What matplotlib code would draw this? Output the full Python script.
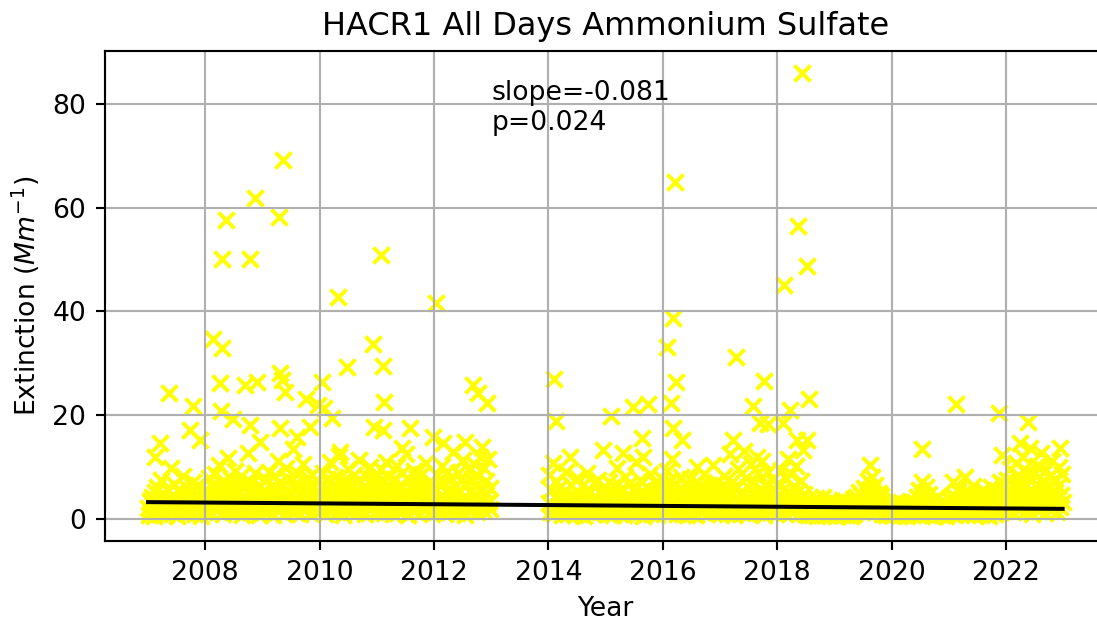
import numpy as np
import pandas as pd
import matplotlib
matplotlib.use("Agg")
import matplotlib.pyplot as plt

# routine samples (every 6 days from Jan 2), extinction in Mm^-1
band_2007 = [2.1, 0.8, 3.4, 1.5, 4.2, 2.7, 0.6, 5.1, 3.3, 1.9, 6.2, 2.4, 0.9, 3.8, 7.4, 2.2, 1.3, 4.6, 3.1, 0.7,
             5.8, 2.9, 1.6, 3.7, 9.8, 2.5, 1.1, 4.4, 6.7, 1.8, 3.2, 0.5, 5.5, 2.6, 1.4, 4.9, 3.6, 8.3, 2.0, 1.2,
             4.1, 6.0, 2.8, 0.9, 3.5, 5.3, 1.7, 2.3, 7.1, 3.9, 1.0, 4.7, 2.4, 6.5, 1.5, 3.0, 0.6, 5.0, 2.2, 3.4, 1.3]
band_2008 = [3.2, 1.4, 5.6, 2.8, 7.9, 4.1, 1.1, 6.3, 3.7, 2.0, 8.6, 4.8, 1.6, 5.2, 3.0, 10.4, 2.3, 6.8, 4.5, 0.9,
             7.2, 3.4, 1.8, 5.9, 11.8, 2.6, 4.0, 7.6, 1.3, 3.9, 6.1, 2.2, 9.3, 4.6, 1.5, 5.4, 3.1, 8.1, 2.7, 0.8,
             6.6, 4.3, 1.9, 7.0, 3.6, 12.6, 2.4, 5.0, 1.2, 6.9, 3.3, 4.9, 2.1, 8.8, 1.7, 5.7, 3.8, 0.7, 6.4, 2.9, 4.4]
band_2009 = [2.9, 5.3, 1.2, 7.7, 3.5, 4.8, 1.9, 9.1, 2.5, 6.2, 3.9, 0.8, 8.2, 4.6, 2.1, 5.8, 11.2, 3.2, 1.5, 7.1,
             4.3, 2.6, 6.6, 1.0, 3.8, 9.7, 5.1, 2.3, 7.4, 1.6, 4.9, 3.0, 13.4, 2.0, 5.6, 1.3, 6.8, 3.4, 8.7, 2.7,
             0.9, 5.0, 4.1, 10.6, 1.8, 6.0, 3.6, 2.2, 7.9, 4.4, 1.1, 5.5, 3.1, 8.4, 2.4, 6.3, 1.4, 4.7, 3.3, 7.3, 2.0]
band_2010 = [4.0, 1.7, 6.4, 2.9, 8.9, 3.5, 1.0, 5.7, 7.6, 2.3, 4.2, 10.9, 1.4, 6.1, 3.7, 2.0, 8.0, 4.8, 1.2, 5.3,
             3.1, 12.1, 2.6, 6.9, 4.4, 0.8, 7.3, 3.3, 1.9, 5.9, 9.5, 2.4, 4.6, 1.5, 6.7, 3.0, 8.5, 2.1, 5.2, 1.1,
             7.0, 3.8, 11.4, 2.7, 4.9, 1.6, 6.2, 3.4, 0.9, 8.3, 4.1, 2.2, 5.6, 3.6, 9.9, 1.8, 6.5, 2.8, 4.5, 1.3, 7.8]
band_2011 = [3.6, 6.9, 1.5, 4.7, 9.6, 2.4, 7.5, 3.1, 1.1, 5.8, 11.0, 2.8, 4.3, 8.1, 1.7, 6.2, 3.5, 0.9, 7.7, 4.9,
             2.2, 10.2, 5.4, 1.3, 3.9, 6.6, 2.5, 8.8, 4.1, 1.8, 5.1, 12.4, 3.2, 0.7, 7.2, 4.6, 2.0, 6.0, 3.4, 9.2,
             1.4, 5.7, 2.9, 7.9, 4.0, 1.0, 6.4, 3.7, 8.6, 2.3, 5.0, 1.6, 10.7, 3.0, 6.8, 2.6, 4.4, 1.2, 7.1, 3.8, 5.5]
band_2012 = [2.7, 5.9, 1.3, 8.4, 3.6, 1.9, 6.5, 4.2, 10.1, 2.2, 7.0, 3.3, 0.9, 5.4, 9.0, 2.6, 4.7, 1.5, 7.8, 3.9,
             12.8, 2.1, 6.1, 4.5, 1.1, 8.9, 3.2, 5.6, 1.7, 7.4, 2.8, 11.3, 4.0, 0.8, 6.7, 3.5, 2.4, 9.4, 5.2, 1.4,
             7.6, 3.0, 10.5, 2.0, 6.3, 4.8, 1.2, 8.2, 3.7, 12.0, 2.5, 5.8, 1.6, 9.7, 4.3, 7.2, 2.9, 11.6, 3.4, 6.0, 1.8]
band_2014 = [3.1, 8.4, 1.2, 5.6, 2.4, 10.8, 0.9, 4.3, 7.2, 2.0, 3.7, 1.5, 6.1, 2.8, 0.7, 4.9, 3.3, 1.8, 5.4, 9.1,
             2.2, 1.0, 4.1, 3.0, 6.6, 1.4, 2.6, 4.6, 0.8, 3.5, 7.8, 1.9, 5.0, 2.3, 1.1, 3.9, 6.3, 2.7, 0.6, 4.4,
             1.6, 8.9, 3.2, 2.1, 5.2, 1.3, 3.6, 0.9, 6.8, 2.5, 4.0, 1.7, 3.4, 7.5, 2.0, 1.2, 4.7, 2.9, 5.8, 1.5, 3.8]
band_2015 = [2.6, 5.1, 1.0, 3.9, 7.0, 1.8, 4.5, 2.3, 0.8, 6.4, 3.0, 1.4, 9.8, 2.7, 4.8, 1.1, 3.6, 5.9, 2.0, 0.7,
             4.2, 8.0, 1.6, 3.3, 2.5, 6.7, 1.2, 4.0, 2.9, 0.9, 5.5, 3.1, 10.9, 1.9, 4.6, 2.2, 7.4, 1.3, 3.7, 5.3,
             0.6, 2.8, 4.3, 1.7, 6.1, 3.4, 2.1, 8.6, 1.0, 4.9, 2.4, 3.8, 1.5, 6.9, 2.6, 0.8, 5.0, 3.2, 1.8, 4.1, 7.7]
band_2016 = [3.5, 1.4, 6.0, 2.2, 9.2, 4.3, 1.0, 7.3, 2.8, 5.1, 11.6, 1.7, 3.9, 2.4, 6.5, 0.9, 4.7, 3.1, 1.5, 8.1,
             2.0, 5.4, 1.2, 3.6, 6.8, 2.6, 0.7, 4.4, 1.9, 7.6, 3.0, 1.1, 5.8, 2.3, 4.1, 0.8, 9.9, 3.3, 1.6, 5.0,
             2.7, 6.3, 1.3, 3.8, 8.7, 2.1, 4.6, 1.0, 3.2, 6.6, 2.5, 1.4, 5.3, 10.3, 2.9, 4.0, 1.8, 7.0, 3.4, 1.1, 4.8]
band_2017 = [2.4, 6.2, 1.3, 4.0, 8.3, 2.0, 3.5, 1.0, 5.7, 2.8, 12.4, 1.6, 4.5, 7.1, 2.2, 0.8, 3.9, 6.4, 1.5, 9.6,
             3.1, 2.6, 5.2, 1.1, 4.3, 13.1, 2.3, 7.8, 1.8, 3.6, 0.9, 5.9, 2.9, 10.5, 1.4, 4.8, 3.3, 6.9, 2.1, 1.2,
             8.8, 3.7, 5.0, 1.7, 11.2, 2.5, 4.2, 0.7, 6.6, 3.0, 1.9, 9.0, 2.7, 4.6, 1.3, 7.4, 3.4, 2.0, 5.5, 1.0, 3.8]
band_2018 = [3.0, 6.8, 1.5, 4.4, 9.4, 2.3, 5.6, 1.1, 3.7, 7.9, 2.6, 11.5, 1.8, 4.9, 3.2, 8.7, 1.3, 6.1, 2.7, 4.0,
             10.2, 2.1, 5.3, 1.0, 3.5, 7.2, 2.4, 1.6, 4.7, 0.9, 2.9, 1.4, 3.6, 0.8, 2.2, 1.1, 3.1, 0.7, 1.9, 2.8,
             1.2, 3.9, 0.6, 2.5, 1.6, 3.3, 0.9, 2.0, 1.3, 4.1, 0.8, 2.6, 1.5, 3.0, 0.7, 1.8, 2.3, 1.0, 3.4, 1.4, 2.1]
band_2019 = [1.2, 2.5, 0.6, 3.1, 1.7, 0.9, 2.8, 1.4, 3.6, 0.7, 2.0, 1.1, 2.9, 0.8, 1.9, 3.3, 1.3, 2.4, 0.6, 1.6,
             3.8, 1.0, 2.6, 4.2, 1.5, 3.0, 5.1, 2.1, 4.6, 1.2, 3.5, 6.0, 2.7, 5.4, 1.8, 4.0, 7.3, 2.3, 5.8, 3.2,
             8.1, 1.6, 4.8, 6.5, 2.9, 3.7, 1.4, 5.0, 2.2, 4.3, 1.0, 3.4, 2.0, 1.3, 2.7, 0.8, 1.9, 3.1, 1.1, 2.4, 0.7]
band_2020 = [1.5, 0.7, 2.4, 1.1, 3.0, 0.9, 1.8, 2.6, 0.6, 1.4, 3.2, 1.0, 2.1, 0.8, 2.8, 1.3, 0.5, 2.3, 1.7, 3.5,
             0.9, 1.2, 2.7, 0.7, 1.9, 3.1, 1.5, 4.2, 2.2, 5.6, 1.0, 3.7, 7.0, 2.5, 4.5, 1.4, 6.2, 2.9, 3.6, 1.1,
             4.8, 2.0, 0.8, 3.3, 1.6, 2.4, 0.6, 3.9, 1.3, 2.1, 0.9, 2.8, 1.5, 0.7, 2.3, 1.0, 3.4, 1.8, 0.6, 2.6, 1.2]
band_2021 = [2.0, 3.6, 1.1, 4.4, 7.1, 2.5, 0.8, 3.9, 1.6, 5.3, 2.2, 6.0, 1.0, 3.1, 4.8, 1.4, 2.7, 8.1, 0.9, 3.5,
             1.8, 5.0, 2.4, 1.2, 4.1, 6.4, 2.0, 0.7, 3.3, 1.5, 4.6, 2.8, 1.1, 3.8, 0.8, 2.3, 5.5, 1.7, 3.0, 1.0,
             4.2, 2.6, 0.6, 3.4, 1.9, 6.2, 1.3, 2.9, 4.5, 0.9, 3.2, 1.6, 5.1, 2.1, 7.0, 1.2, 3.7, 2.5, 4.9, 1.4, 6.6]
band_2022 = [3.6, 7.5, 1.8, 5.2, 9.6, 2.9, 4.4, 1.2, 6.7, 3.3, 10.8, 2.1, 5.8, 8.4, 1.6, 4.0, 7.1, 2.5, 11.9, 3.8,
             6.2, 1.4, 9.0, 4.7, 2.3, 7.8, 5.5, 1.0, 3.1, 8.9, 4.2, 6.5, 2.0, 10.1, 3.5, 1.5, 5.9, 12.6, 2.7, 7.3,
             4.9, 1.1, 9.4, 3.0, 6.0, 2.4, 8.1, 4.5, 1.7, 11.1, 5.1, 2.8, 7.7, 3.9, 1.3, 6.4, 9.9, 2.2, 4.6, 8.6, 3.2]

# high days (decimal year, value)
peak_year = [2007.12, 2007.21, 2007.37, 2007.73, 2007.79, 2007.91, 2008.14, 2008.26, 2008.29, 2008.28, 2008.29,
             2008.36, 2008.48, 2008.70, 2008.78, 2008.78, 2008.87, 2008.90, 2008.96, 2009.29, 2009.31, 2009.31,
             2009.34, 2009.36, 2009.40, 2009.60, 2009.76, 2009.83, 2009.97, 2010.04, 2010.08, 2010.22, 2010.32,
             2010.36, 2010.48, 2010.93, 2010.95, 2011.07, 2011.11, 2011.11, 2011.12, 2011.44, 2011.58, 2011.98,
             2012.03, 2012.16, 2012.54, 2012.68, 2012.77, 2012.84, 2012.92,
             2014.10, 2014.13, 2014.38, 2014.95, 2015.09, 2015.30, 2015.48, 2015.63, 2015.65, 2015.74, 2016.07,
             2016.14, 2016.18, 2016.18, 2016.21, 2016.23, 2016.34, 2017.23, 2017.28, 2017.58, 2017.65, 2017.70,
             2017.77, 2017.84, 2018.10, 2018.12, 2018.22, 2018.35, 2018.36, 2018.43, 2018.45, 2018.52, 2018.52,
             2018.56, 2019.62, 2020.53, 2021.13, 2021.88, 2021.93, 2022.24, 2022.38, 2022.42, 2022.60, 2022.94]
peak_val = [12.0, 14.6, 24.3, 17.1, 21.8, 15.2, 34.7, 26.2, 33.0, 20.8, 50.1,
            57.6, 19.3, 25.8, 50.1, 18.1, 61.8, 26.4, 14.8, 58.2, 28.1, 17.5,
            26.8, 69.2, 24.5, 15.8, 23.1, 17.7, 22.0, 26.4, 21.4, 19.5, 42.8,
            12.9, 29.3, 33.7, 17.7, 50.9, 29.5, 17.1, 22.5, 13.7, 17.5, 15.8,
            41.6, 14.6, 14.8, 25.8, 24.3, 13.9, 22.4,
            27.0, 18.9, 12.0, 13.3, 19.8, 12.7, 21.6, 15.6, 12.0, 22.2, 33.1,
            22.3, 38.7, 17.5, 64.9, 26.4, 15.2, 15.2, 31.2, 21.8, 12.0, 18.5,
            26.6, 18.3, 18.5, 45.1, 21.0, 15.2, 56.5, 85.9, 13.3, 48.7, 15.2,
            23.1, 10.4, 13.5, 22.2, 20.4, 12.3, 14.6, 18.7, 13.7, 10.0, 13.7]

trend_slope = -0.081   # per year
trend_start = 3.2      # value at first sample
p_value = 0.024

bands = {2007: band_2007, 2008: band_2008, 2009: band_2009, 2010: band_2010, 2011: band_2011,
         2012: band_2012, 2014: band_2014, 2015: band_2015, 2016: band_2016, 2017: band_2017,
         2018: band_2018, 2019: band_2019, 2020: band_2020, 2021: band_2021, 2022: band_2022}

frames = []
for yr, vals in bands.items():
    d = pd.date_range(f"{yr}-01-02", periods=len(vals), freq="6D")
    frames.append(pd.DataFrame({"date": d, "ext": vals}))
pk_dates = [pd.Timestamp(year=int(y), month=1, day=1) + pd.Timedelta(days=(y - int(y)) * 365.25)
            for y in peak_year]
frames.append(pd.DataFrame({"date": pk_dates, "ext": peak_val}))
df = pd.concat(frames).sort_values("date")

dpi = 192
fig = plt.figure(figsize=(1097 / dpi, 625 / dpi), dpi=dpi)
ax = fig.add_axes([0.0957, 0.1344, 0.9125, 0.7845])

ax.scatter(df["date"], df["ext"], marker="x", color="yellow")

t0, t1 = df["date"].min(), df["date"].max()
yrs = (t1 - t0).days / 365.25
ax.plot([t0, t1], [trend_start, trend_start + trend_slope * yrs], color="black", lw=1.5)

ax.text(pd.Timestamp("2013-01-01"), 75, f"slope={trend_slope}\np={p_value}")

ax.set_xlim(pd.Timestamp("2006-04-02"), pd.Timestamp("2023-10-01"))
ax.set_ylim(-4.3, 90.3)
ax.grid(True)
ax.set_title("HACR1 All Days Ammonium Sulfate")
ax.set_xlabel("Year")
ax.set_ylabel("Extinction ($Mm^{-1}$)")

fig.savefig("out.png", dpi=dpi)
